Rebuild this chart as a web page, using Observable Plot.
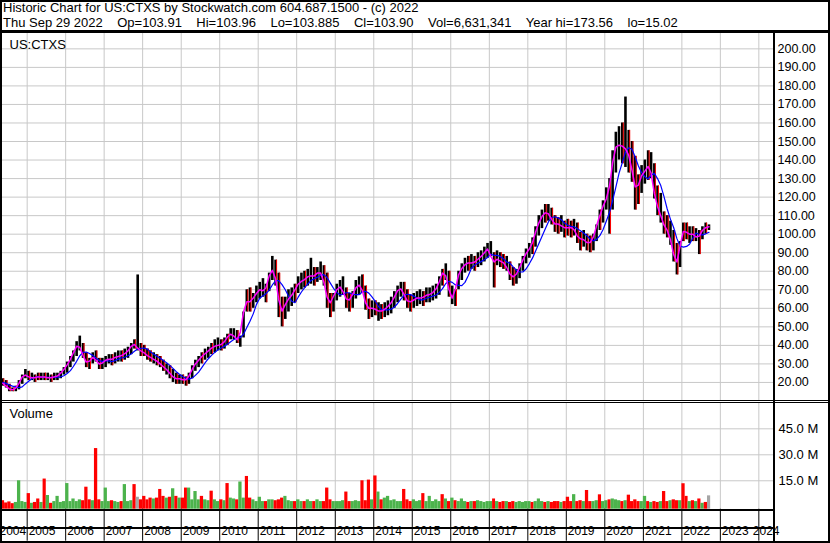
<!DOCTYPE html>
<html><head><meta charset="utf-8">
<script src="https://cdn.jsdelivr.net/npm/d3@7"></script>
<script src="https://cdn.jsdelivr.net/npm/@observablehq/plot@0.6"></script>
<style>
html,body{margin:0;padding:0;background:#fff;}
#root{position:relative;width:830px;height:543px;overflow:hidden;font-family:"Liberation Sans",Arial,sans-serif;background:#fff;}
.ln{position:absolute;background:#000;z-index:5;}
.hdr{position:absolute;left:3px;font-size:13px;white-space:pre;color:#000;line-height:15px;z-index:6;}
.pl{position:absolute;left:0;}
#mask{position:absolute;left:780px;top:511px;width:48px;height:30px;background:#fff;z-index:4;}
</style></head><body>
<div id="root">
  <div class="hdr" style="top:0px">Historic Chart for US:CTXS by Stockwatch.com 604.687.1500 - (c) 2022</div>
  <div class="hdr" style="top:15px">Thu Sep 29 2022    Op=103.91    Hi=103.96    Lo=103.885    Cl=103.90    Vol=6,631,341    Year hi=173.56    lo=15.02</div>
  <div id="price" class="pl" style="top:32px"></div>
  <div id="vol" class="pl" style="top:401px"></div>
  <div id="mask"></div>
  <!-- frame lines -->
  <div class="ln" style="left:0;top:0;width:830px;height:1.5px"></div>
  <div class="ln" style="left:0;top:541px;width:830px;height:2px"></div>
  <div class="ln" style="left:0;top:0;width:2px;height:543px"></div>
  <div class="ln" style="left:828px;top:0;width:2px;height:543px"></div>
  <div class="ln" style="left:0;top:30px;width:830px;height:2.5px"></div>
  <div class="ln" style="left:773px;top:31px;width:2px;height:512px"></div>
  <div class="ln" style="left:0;top:400px;width:830px;height:1px"></div>
  <div class="ln" style="left:0;top:402px;width:830px;height:1px"></div>
  <div class="ln" style="left:0;top:509px;width:775px;height:2px"></div>
  <div class="ln" style="left:0;top:526.5px;width:775px;height:2px"></div>
</div>
<script>
// ---- data (monthly, May 2004 .. Sep 2022) ----
const startYear = 2004, startMonth = 5;
const closes = [
  20,19,17,16,16,18,21,25,                 // 2004 May-Dec
  23,23,22,23,23,23,23,22,23,23,24,26,     // 2005
  28,31,34,38,41,37,32,30,33,34,30,30,     // 2006
  31,33,32,33,34,34,35,36,38,41,40,37,     // 2007
  37,35,34,33,32,31,29,28,26,24,22,22,     // 2008
  22,21,22,25,29,31,33,35,36,38,39,40,     // 2009
  40,41,43,46,46,44,42,52,64,63,64,67,     // 2010
  69,71,68,74,81,80,72,57,60,64,66,68,     // 2011
  72,74,75,76,78,77,78,80,78,70,62,64,     // 2012
  69,71,72,66,64,65,70,72,73,66,60,60,     // 2013
  60,59,58,59,60,62,64,68,71,70,65,63,     // 2014
  64,65,66,65,67,67,68,69,72,77,81,74,     // 2015
  66,65,76,80,83,84,85,84,86,87,89,91,     // 2016
  93,83,87,86,85,84,80,77,77,80,84,88,     // 2017
  91,93,98,104,108,111,112,110,106,105,106,103, // 2018
  104,103,104,101,97,98,96,95,96,101,108,112,   // 2019
  118,120,132,145,149,147,148,144,141,128,123,130, // 2020
  133,135,138,128,116,114,106,104,100,94,84,86,    // 2021
  101,102,100,100,100,97,101,103,104                // 2022 Jan-Sep
];
const highs = [
  22,21,19,17,18,21,24,27,
  26,25,24,25,25,25,25,24,25,25,26,28,
  31,34,37,42,45,41,36,33,36,37,33,33,
  34,35,35,36,37,37,38,39,41,43,78,41,
  40,38,37,36,35,34,32,30,29,27,25,24,
  24,23,25,29,32,34,36,38,39,41,43,44,
  43,44,46,49,49,48,45,58,70,71,68,72,
  74,76,73,79,88,86,79,66,66,70,71,73,
  77,79,80,81,87,82,82,85,83,79,68,68,
  73,75,77,71,68,69,75,77,78,72,65,64,
  64,63,62,63,64,66,69,72,74,74,70,67,
  68,69,70,69,71,71,72,73,77,81,84,80,
  72,70,80,84,87,88,89,88,90,91,93,95,
  96,90,91,90,89,88,85,82,81,84,88,92,
  95,98,104,110,113,116,116,114,110,109,110,107,
  108,107,108,106,101,102,100,99,100,105,113,118,
  125,130,145,155,158,160,174,156,150,142,132,137,
  140,145,144,138,126,122,112,110,107,102,95,96,
  106,106,104,104,103,102,104,106,105
];
const lows = [
  18,17,15,15,15,16,19,22,
  21,21,20,21,21,21,21,20,21,21,22,24,
  25,28,31,34,37,33,28,27,30,31,27,27,
  28,30,29,30,31,31,32,33,35,38,37,34,
  34,32,31,30,29,28,26,24,22,20,19,19,
  19,18,19,22,26,28,30,32,33,35,36,37,
  37,38,40,43,43,41,39,44,58,58,60,63,
  65,66,63,69,75,72,55,50,54,58,61,63,
  68,70,71,72,73,72,74,75,72,60,55,58,
  64,66,67,60,58,60,65,67,68,59,54,55,
  56,53,54,55,56,57,60,63,66,64,60,58,
  60,61,62,61,63,63,64,65,67,72,75,66,
  62,61,70,75,79,80,81,80,82,83,85,87,
  88,71,83,82,81,80,75,72,73,76,80,84,
  87,89,93,99,103,106,107,105,101,100,101,98,
  99,98,99,95,91,93,91,90,91,96,102,106,
  113,100,113,133,140,138,136,133,128,113,116,122,
  127,129,130,119,110,106,100,98,94,85,78,82,
  96,97,95,96,96,89,97,100,102
];
// volume in millions of shares
const volumes = [
  3.5,2.2,2.8,1.8,2.5,15,3,2.5,
  7.6,2,2.5,4.5,2.5,16,6.5,2,3,6,2.5,3,
  13.4,3,4.5,3,4,3.5,11.3,4,3.5,33.6,4,3,
  10.8,3,3.5,3,2.5,3,12.8,3,3.5,12.8,5.5,4,
  6,4,5,4.5,5,10,6,5,5.5,10.4,6,5,
  5,10.8,10.8,4,8.8,4,6,4,3.5,9,4,3,
  4,3.5,13.4,5,4.5,4,14.3,5,17.5,5,4,3,
  5.5,3,3,4,4,3.5,4,5,6,3.5,3,3,
  4,3,3,4,3,3,4,3,3,10.8,4,3,
  3,3,3.5,8.5,3,3,3.5,3,15,3.5,15.4,4,
  17.8,8.5,4,5,6,3.5,4,3,3,10,4,3,
  4,3,3.5,7.6,3,6,3,4,3,7,4.5,3,
  5,3.5,3,4.5,3,2.5,3,3,3.5,3,2.5,3,
  3,4.5,3,2.5,3,3,2.5,3,2.5,3,2.5,3,
  3,2.5,3,4.5,3,2.5,3,2.5,3,3,2.5,3,
  5.5,3,7,3,3.5,3,9.4,3,3,3.5,6.9,3,
  3.5,4,4.5,4,3.5,3,3.5,6.7,3,4,3,3,
  6,3,2.5,3,2.5,3,8.8,3,3.5,4,3.5,3.5,
  13.3,6,3,3.5,3,4.5,2,2.5,6.3
];
// bar direction per month: g = up, r = down, n = unchanged
const directions =
  "rrrrgggg" +
  "rgrrgrgrgggg" + "gggggrrrgrrg" + "ggrggrgggrnr" + "rrrgrrrgrgrg" +
  "rrggggrggrgg" + "rgrggrggrrgg" + "ggrggrrrgggr" + "ggrggrggrrrg" +
  "gggrrgggrrrg" + "rgrggggggrrr" + "gggrgggggrgr" + "grgggrgrgggg" +
  "grgrrgrrgggg" + "grgggrgrrrgr" + "rrgrrgrrggrg" + "grgggrgrrrrg" +
  "grgrrgrrgrrg" + "rrgrgrgrn";

const priceTicks = [20,30,40,50,60,70,80,90,100,110,120,130,140,150,160,170,180,190,200];
const volumeTicks = [15,30,45];
const yearLabels = ["2004","2005","2006","2007","2008","2009","2010","2011","2012","2013","2014",
  "2015","2016","2017","2018","2019","2020","2021","2022","2023","2024"];

// ---- build table ----
const rows = closes.map((c, i) => {
  const m0 = startMonth - 1 + i;
  return {
    date: new Date(startYear, m0, 15),
    start: new Date(startYear, m0, 1),
    end: new Date(startYear, m0 + 1, 1),
    close: c, high: highs[i], low: lows[i],
    vol: volumes[i], dir: directions[i]
  };
});
const yearTicks = yearLabels.slice(1).map(y => new Date(+y, 0, 1));

const xDomain = [new Date(2004, 4, 12), new Date(2024, 4, 19)];
const xScale = {type: "time", domain: xDomain, axis: null};
const font = '"Liberation Sans", Arial, sans-serif';
const grid = "#c8c8c8";
const volFloor = -1.4;

const price = Plot.plot({
  width: 830, height: 369,
  marginLeft: 2, marginRight: 57, marginTop: 1, marginBottom: 0,
  x: xScale,
  y: {domain: [9.72, 208.28], axis: null},
  style: {fontFamily: font, fontSize: "12.5px", color: "#000", background: "transparent", overflow: "visible"},
  marks: [
    Plot.gridX(yearTicks, {stroke: grid, strokeOpacity: 1}),
    Plot.gridY(priceTicks, {stroke: grid, strokeOpacity: 1}),
    Plot.ruleX(rows, {x: "date", y1: "low", y2: "high", stroke: "#000", strokeWidth: 2.6}),
    Plot.ruleX(rows.filter(d => d.dir === "r"), {x: "date", y1: "low", y2: "high", stroke: "#ff0000", strokeWidth: 1, dx: 1}),
    Plot.lineY(rows, Plot.windowY({k: 5, anchor: "end"}, {x: "date", y: "close", stroke: "#0000ff", strokeWidth: 1.2})),
    Plot.lineY(rows, Plot.windowY({k: 2, anchor: "middle"}, {x: "date", y: "close", stroke: "#ff00ff", strokeWidth: 1.5})),
    Plot.axisY(priceTicks, {anchor: "right", label: null, tickSize: 0, tickPadding: 4, tickFormat: d => d.toFixed(2), fontSize: 12.5, fill: "#000"}),
    Plot.text(["US:CTXS"], {frameAnchor: "top-left", dx: 7, dy: 6, fontSize: 13, fill: "#000"})
  ]
});
document.getElementById("price").appendChild(price);

const colorOf = {g: "#4cb34c", r: "#ff0000", n: "#a6a6a6"};
const vol = Plot.plot({
  width: 830, height: 142,
  marginLeft: 2, marginRight: 57, marginTop: 1.5, marginBottom: 34.3,
  x: xScale,
  y: {domain: [volFloor, 59.9], axis: null},
  style: {fontFamily: font, fontSize: "13px", color: "#000", background: "transparent", overflow: "visible"},
  marks: [
    Plot.gridX(yearTicks, {stroke: grid, strokeOpacity: 1}),
    Plot.gridY(volumeTicks, {stroke: grid, strokeOpacity: 1}),
    Plot.rectY(rows, {x1: "start", x2: "end", y1: () => volFloor, y2: "vol", fill: d => colorOf[d.dir]}),
    Plot.axisY(volumeTicks, {anchor: "right", label: null, tickSize: 0, tickPadding: 5, tickFormat: d => d.toFixed(1) + " M", fontSize: 13, fill: "#000"}),
    Plot.axisX(yearTicks, {anchor: "bottom", label: null, tickSize: 32, tickFormat: () => "", stroke: "#000", strokeOpacity: 1}),
    Plot.text(yearLabels.slice(1, -1), {x: d => new Date(+d, 0, 1), text: d => d, frameAnchor: "bottom", dy: 26, dx: 1.5, textAnchor: "start", fontSize: 12, fill: "#000"}),
    Plot.text(yearLabels.slice(0, 1), {x: () => new Date(2005, 0, 1), text: d => d, frameAnchor: "bottom", dy: 26, dx: -1, textAnchor: "end", fontSize: 12, fill: "#000"}),
    Plot.text(yearLabels.slice(-1), {x: () => xDomain[1], text: d => d, frameAnchor: "bottom", dy: 26, dx: 6, textAnchor: "end", fontSize: 12, fill: "#000"}),
    Plot.text(["Volume"], {frameAnchor: "top-left", dx: 7, dy: 6, fontSize: 13, fill: "#000"})
  ]
});
document.getElementById("vol").appendChild(vol);
</script>
</body></html>
